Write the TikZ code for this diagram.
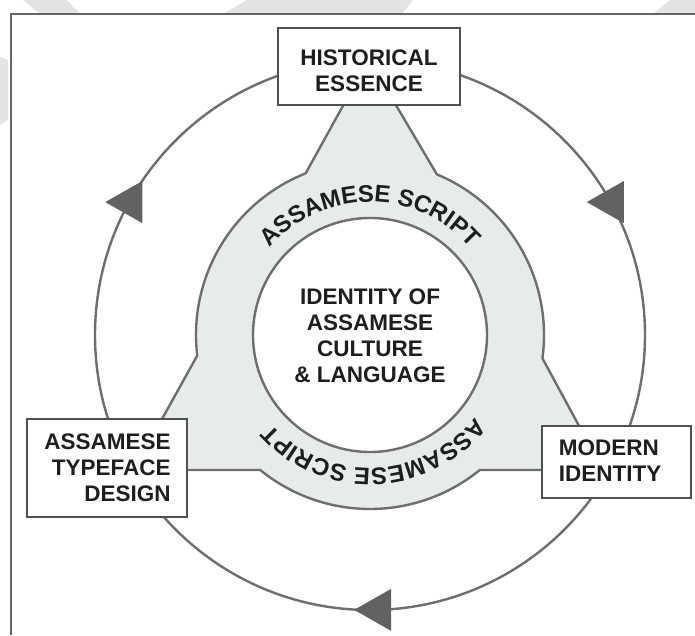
\documentclass[tikz,border=0pt]{standalone}
\usepackage{fontspec}
\setmainfont{Liberation Sans}
\usetikzlibrary{calc,decorations.text}
\definecolor{linegray}{HTML}{6E6E6E}
\definecolor{boxline}{HTML}{505050}
\definecolor{fillgray}{HTML}{E9EAEA}
\definecolor{arrowgray}{HTML}{626262}
\definecolor{txt}{HTML}{1E1E1E}
\definecolor{wm}{HTML}{E4E4E4}
\definecolor{framec}{HTML}{666666}
\newcommand{\myarcfont}{\bfseries\fontsize{24}{24}\selectfont}
\begin{document}
\begin{tikzpicture}[x=1pt,y=1pt,
  boxframe/.style={draw=boxline, line width=2pt, fill=white, inner sep=0pt},
  boxtext/.style={inner sep=0pt, font=\bfseries\fontsize{22.5}{26}\selectfont, text=txt},
  ringline/.style={draw=linegray, line width=2.4pt},
  arrowtri/.style={fill=arrowgray},
  arctext/.style={decorate,
     decoration={text effects along path, text={ASSAMESE SCRIPT},
     text effects/.cd, text along path, fit text to path,
     characters={text=txt, font=\myarcfont, inner sep=0pt}}}]
\useasboundingbox (0,0) rectangle (695,635);
\fill[white] (0,0) rectangle (695,635);
% faint watermark fragments
\fill[wm] (23,635) -- (67,635) -- (80,621) -- (40,621) -- cycle;
\fill[wm] (247,635) -- (413,635) -- (402,621) -- (223,621) -- cycle;
\fill[wm] (670,635) -- (695,635) -- (695,621) -- (653,621) -- cycle;
\fill[wm] (0,578) -- (8,575) -- (8,515) -- (0,510) -- cycle;
% frame
\draw[framec, line width=1.2pt] (11,0) -- (11,621) -- (695,621);
\coordinate (O) at (370,300);
% outer cycle
\draw[ringline] (O) circle[radius=275];
% grey ring with spikes
\filldraw[fill=fillgray, draw=linegray, line width=2.4pt, line join=round]
  ($(O)+(111.7:174)$) -- (351.7,545) -- (387,545) -- ($(O)+(67.4:174)$)
  arc[start angle=67.4, end angle=-7.7, radius=174]
  -- (602.9,165) -- ($(O)+(-50.9:174)$)
  arc[start angle=-50.9, end angle=-129.1, radius=174]
  -- (133.7,165) -- ($(O)+(186.8:174)$)
  arc[start angle=186.8, end angle=111.7, radius=174] -- cycle;
% inner white circle
\filldraw[fill=white, draw=linegray, line width=2.4pt] (O) circle[radius=117];
% arrowheads on the outer cycle
\fill[arrowtri] ($(O)+(151.1:275)+(-24,0)$) -- ++(37,21) -- ++(0,-42) -- cycle;
\fill[arrowtri] ($(O)+(28.9:275)+(-24,0)$) -- ++(37,21) -- ++(0,-42) -- cycle;
\fill[arrowtri] ($(O)+(-88.3:275)+(-24,0)$) -- ++(37,21) -- ++(0,-42) -- cycle;
% boxes
\node[boxframe, minimum width=182pt, minimum height=77pt] (hist) at (369,568.5) {};
\node[boxframe, minimum width=160pt, minimum height=98pt] (typeface) at (107,167) {};
\node[boxframe, minimum width=149pt, minimum height=72pt] (modern) at (616.5,173) {};
% texts
\node[boxtext, align=center] (histtext) at (369,564.5) {HISTORICAL\\ESSENCE};
\node[boxtext, align=right] (typetext) at (107.5,167.5) {ASSAMESE\\TYPEFACE\\DESIGN};
\node[boxtext, align=left] (modtext) at (610,174.5) {MODERN\\IDENTITY};
\node[boxtext, align=center] (identity) at (370,299) {IDENTITY OF\\ASSAMESE\\CULTURE\\\&~LANGUAGE};
% curved labels
\path[arctext] ($(O)+(139:133)$) arc[start angle=139, end angle=41, radius=133];
\path[arctext] ($(O)+(-38:133)$) arc[start angle=-38, end angle=-138, radius=133];
\end{tikzpicture}
\end{document}
